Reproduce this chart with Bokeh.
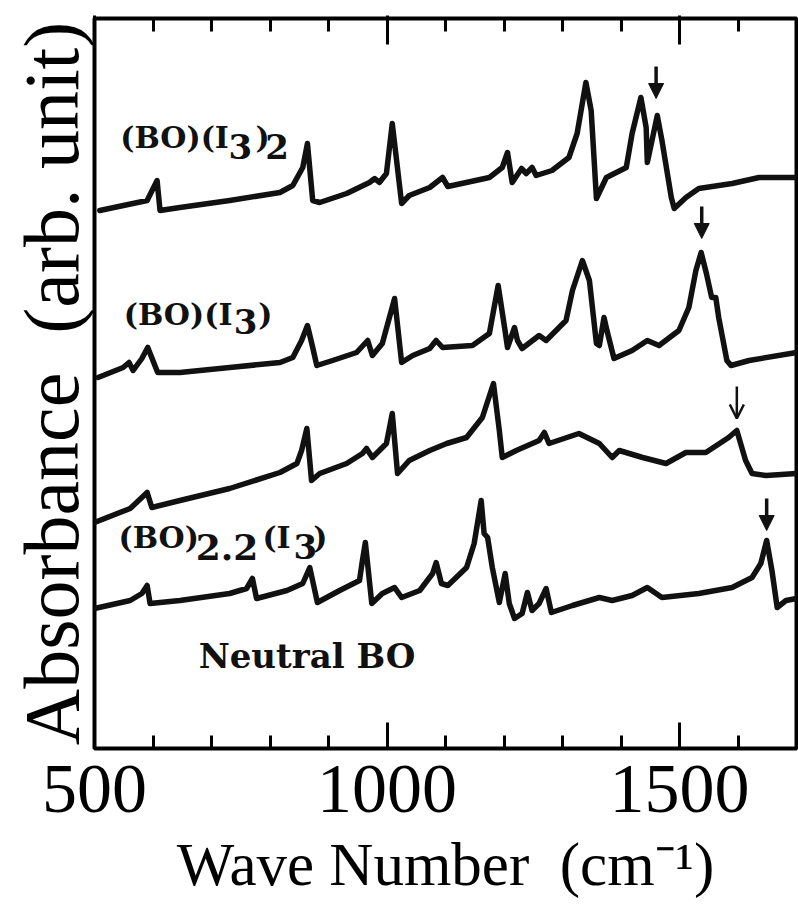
import numpy as np
from bokeh.plotting import figure
from bokeh.models import (Range1d, FixedTicker, LinearAxis, Label, Arrow, NormalHead, OpenHead,
                          CustomJSTickFormatter)
from bokeh.embed import file_html
from bokeh.resources import INLINE

# ---------------- data ----------------
# (BO)(I3)2
wn_a = [509, 590, 607, 612, 646, 731, 817, 839, 856, 864, 873, 885, 931, 970, 979,
        987, 999, 1009, 1025, 1038, 1073, 1095, 1104, 1175, 1197, 1206, 1214, 1230, 1238, 1248,
        1255, 1282, 1311, 1325, 1340, 1349, 1358, 1375, 1409, 1419, 1434, 1443, 1445, 1453, 1462,
        1470, 1486, 1491, 1511, 1533, 1590, 1636, 1700]
ab_a = [5.38, 5.48, 5.68, 5.38, 5.41, 5.48, 5.56, 5.63, 5.81, 6.05, 5.48, 5.46, 5.55, 5.66, 5.70,
        5.66, 5.75, 6.25, 5.45, 5.53, 5.61, 5.71, 5.62, 5.71, 5.81, 5.96, 5.66, 5.80, 5.75, 5.81,
        5.73, 5.78, 5.91, 6.15, 6.66, 6.38, 5.50, 5.71, 5.81, 6.15, 6.51, 6.21, 5.86, 6.08, 6.33,
        6.08, 5.51, 5.40, 5.51, 5.60, 5.65, 5.71, 5.71]

# (BO)(I3)
wn_b = [506, 549, 559, 566, 581, 591, 608, 646, 731, 817, 839, 854, 864, 873, 880,
        907, 948, 967, 975, 992, 1013, 1025, 1044, 1073, 1084, 1095, 1146, 1175, 1190, 1201,
        1206, 1218, 1223, 1231, 1260, 1272, 1306, 1317, 1334, 1346, 1358, 1363, 1371, 1376, 1388,
        1419, 1445, 1465, 1499, 1516, 1528, 1537, 1546, 1555, 1562, 1567, 1581, 1588, 1619, 1700]
ab_b = [3.71, 3.81, 3.86, 3.78, 3.90, 4.01, 3.76, 3.76, 3.81, 3.86, 3.91, 4.08, 4.23, 4.01, 3.83,
        3.88, 3.96, 4.08, 3.93, 4.05, 4.50, 3.86, 3.93, 4.00, 4.08, 4.01, 4.03, 4.15, 4.63, 4.21,
        4.01, 4.21, 4.08, 4.00, 4.13, 4.08, 4.28, 4.58, 4.88, 4.68, 4.05, 4.03, 4.31, 4.18, 3.90,
        3.98, 4.08, 4.03, 4.18, 4.41, 4.78, 4.96, 4.75, 4.51, 4.51, 4.31, 3.88, 3.83, 3.88, 3.96]

# (BO)2.2(I3)
wn_c = [500, 561, 590, 598, 646, 731, 817, 846, 854, 863, 871, 885, 931, 958, 965,
        975, 999, 1009, 1018, 1038, 1073, 1102, 1136, 1163, 1182, 1192, 1197, 1221, 1260, 1269,
        1277, 1328, 1363, 1385, 1397, 1437, 1477, 1511, 1545, 1584, 1598, 1613, 1624, 1648, 1700]
ab_c = [2.26, 2.40, 2.56, 2.41, 2.48, 2.60, 2.76, 2.85, 2.98, 3.20, 2.68, 2.75, 2.85, 2.95, 3.00,
        2.91, 3.05, 3.35, 2.75, 2.88, 2.98, 3.05, 3.11, 3.31, 3.65, 3.18, 2.91, 2.98, 3.08, 3.16,
        3.05, 3.15, 3.05, 2.91, 2.98, 2.91, 2.85, 2.96, 2.96, 3.11, 3.18, 2.88, 2.75, 2.73, 2.75]

# Neutral BO
wn_d = [500, 561, 581, 590, 595, 646, 731, 760, 770, 777, 829, 856, 868, 881, 919,
        953, 958, 963, 974, 992, 1013, 1025, 1056, 1078, 1084, 1093, 1104, 1136, 1149, 1161,
        1166, 1172, 1180, 1192, 1202, 1209, 1218, 1231, 1240, 1248, 1260, 1272, 1281, 1317, 1363,
        1385, 1419, 1445, 1470, 1533, 1590, 1624, 1639, 1649, 1658, 1667, 1682, 1700]
ab_d = [1.40, 1.48, 1.55, 1.63, 1.45, 1.48, 1.55, 1.60, 1.70, 1.50, 1.58, 1.65, 1.81, 1.46, 1.58,
        1.68, 1.88, 2.06, 1.45, 1.55, 1.61, 1.51, 1.58, 1.75, 1.86, 1.65, 1.63, 1.81, 2.05, 2.48,
        2.15, 2.11, 1.81, 1.46, 1.75, 1.45, 1.30, 1.35, 1.56, 1.38, 1.45, 1.60, 1.36, 1.43, 1.51,
        1.48, 1.53, 1.61, 1.51, 1.55, 1.61, 1.71, 1.85, 2.08, 1.78, 1.41, 1.48, 1.50]

# marked bands (arrows): position and arrow-tip height
arrow_wn = [1460, 1538, 1598, 1649]
arrow_tip = [6.50, 5.10, 3.30, 2.18]
arrow_open = [False, False, True, False]

x_major = [500, 1000, 1500]
x_minor = [600, 700, 800, 900, 1100, 1200, 1300, 1400, 1600]

x_title = "Wave Number\u00a0\u00a0(cm\u207b\u00b9)"
y_title = "Absorbance\u00a0\u00a0(arb. unit)"

# ---------------- figure ----------------
p = figure(width=798, height=914, x_range=Range1d(500, 1700), y_range=Range1d(0, 7.3),
           output_backend="svg", toolbar_location=None,
           min_border_left=94, min_border_right=2, min_border_top=18, min_border_bottom=166,
           background_fill_color="white", border_fill_color="white")
p.grid.visible = False
p.outline_line_color = "black"
p.outline_line_width = 4

AX_FONT = "Liberation Serif"

xa = p.xaxis[0]
xa.ticker = FixedTicker(ticks=x_major, minor_ticks=x_minor)
xa.axis_line_color = None
xa.major_tick_in = 26
xa.major_tick_out = 0
xa.minor_tick_in = 13
xa.minor_tick_out = 0
xa.major_tick_line_width = 3
xa.minor_tick_line_width = 3
xa.major_tick_line_color = "black"
xa.minor_tick_line_color = "black"
xa.major_label_text_font = AX_FONT
xa.major_label_text_font_size = "70px"
xa.major_label_text_color = "black"
xa.major_label_standoff = 17
xa.axis_label = x_title
xa.axis_label_text_font = AX_FONT
xa.axis_label_text_font_size = "61px"
xa.axis_label_text_font_style = "normal"
xa.axis_label_text_color = "black"
xa.axis_label_standoff = 16

top = LinearAxis(ticker=FixedTicker(ticks=x_major, minor_ticks=x_minor),
                 formatter=CustomJSTickFormatter(code="return ''"),
                 axis_line_color=None, major_tick_in=26, major_tick_out=3,
                 minor_tick_in=13, minor_tick_out=0, major_tick_line_width=3,
                 minor_tick_line_width=3, major_tick_line_color="black",
                 minor_tick_line_color="black", major_label_text_color=None,
                 major_label_standoff=0)
p.add_layout(top, "above")

ya = p.yaxis[0]
ya.ticker = FixedTicker(ticks=[])
ya.axis_line_color = None
ya.major_tick_out = 0
ya.major_tick_in = 0
ya.minor_tick_out = 0
ya.minor_tick_in = 0
ya.major_label_standoff = 0
ya.axis_label = y_title
ya.axis_label_text_font = AX_FONT
ya.axis_label_text_font_size = "78px"
ya.axis_label_text_font_style = "normal"
ya.axis_label_text_color = "black"
ya.axis_label_standoff = 0

# ---------------- spectra ----------------
for wn, ab in [(wn_a, ab_a), (wn_b, ab_b), (wn_c, ab_c), (wn_d, ab_d)]:
    p.line(wn, ab, line_color="#111111", line_width=5.5, line_join="round", line_cap="round")

# ---------------- arrows ----------------
for xw, tip, is_open in zip(arrow_wn, arrow_tip, arrow_open):
    if is_open:
        head = OpenHead(size=14, line_width=2.5, line_color="#111111")
        lw = 2.5
    else:
        head = NormalHead(size=15, fill_color="#111111", line_color="#111111", line_width=1)
        lw = 3.5
    p.add_layout(Arrow(end=head, x_start=xw, y_start=tip + 0.32, x_end=xw, y_end=tip,
                       line_width=lw, line_color="#111111"))

# ---------------- sample labels ----------------
LBL_FONT = "DejaVu Serif"
def piece(x, y, text, size):
    p.add_layout(Label(x=x, y=y, text=text, text_font=LBL_FONT, text_font_style="bold",
                       text_font_size=size, text_color="#111111",
                       text_align="left", text_baseline="alphabetic"))

MAIN, SUB = "30px", "34px"
# (BO)(I3)2
piece(544, 6.11, "(BO)(I", MAIN)
piece(729, 6.02, "3", SUB)
piece(775, 6.11, ")", MAIN)
piece(792, 6.02, "2", SUB)
# (BO)(I3)
piece(550, 4.34, "(BO)(I", MAIN)
piece(738, 4.27, "3", SUB)
piece(780, 4.34, ")", MAIN)
# (BO)2.2(I3)
piece(541, 2.11, "(BO)", MAIN)
piece(673, 2.02, "2.2", "36px")
piece(787, 2.11, "(I", MAIN)
piece(840, 2.02, "3", SUB)
piece(874, 2.11, ")", MAIN)
# Neutral BO
piece(678, 0.93, "Neutral BO", "34px")

open("out.html", "w").write(file_html(p, INLINE))
